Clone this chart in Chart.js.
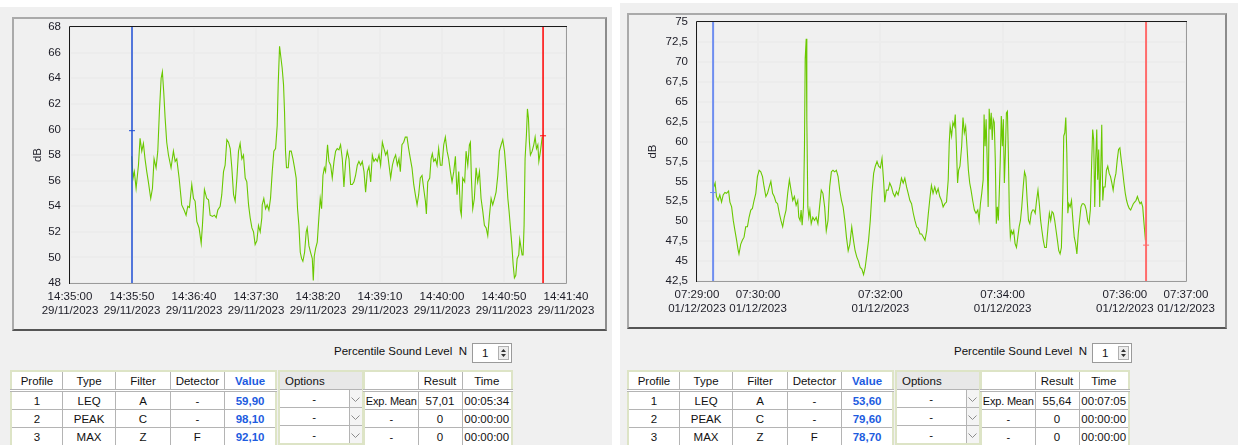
<!DOCTYPE html>
<html>
<head>
<meta charset="utf-8">
<title>Sound level</title>
<script src="https://cdn.jsdelivr.net/npm/chart.js@4.4.0/dist/chart.umd.min.js"></script>
<style>
  body { margin:0; width:1238px; height:445px; overflow:hidden; background:#fff; position:relative;
         font-family:"Liberation Sans", Arial, sans-serif; font-size:11.5px; color:#111; }
  .win { position:absolute; background:#f0f0f0; }
  .frame { position:absolute; box-sizing:border-box; border:2px solid #aaaaaa; border-right-color:#8c8c8c; border-bottom-color:#555; }
  canvas { position:absolute; }
  .perc { position:absolute; top:345px; width:170px; text-align:right; white-space:nowrap; }
  .spin { position:absolute; top:343px; width:40px; height:20px; box-sizing:border-box; border:1px solid #9a9a9a; background:#fff; }
  .spin span { position:absolute; left:9px; top:3px; }
  .spin svg { position:absolute; right:2px; top:2px; }
  table.grid { position:absolute; top:370px; border-collapse:collapse; background:#fff; border:2px solid #dde4c6; table-layout:fixed; font-size:11.5px; }
  table.grid td, table.grid th { border:1px solid #b4b4b4; height:17px; padding:0; text-align:center; font-weight:normal; white-space:nowrap; overflow:visible; }
  table.grid th { border-bottom:3px double #b4b4b4; }
  table.grid th.opt { background:#e8e8e8; text-align:left; padding-left:5px; border-bottom:1px solid #b4b4b4; }
  table.grid td.dd { background:#f4f4f4; }
  table.grid td.lab { font-size:11px; letter-spacing:-0.2px; }
  .blue { color:#1d5ce0; font-weight:bold !important; }
</style>
</head>
<body>
<div class="win" style="left:0;top:7px;width:612px;height:438px"></div>
<div class="win" style="left:620px;top:3px;width:618px;height:442px"></div>
<div class="frame" style="left:12px;top:17px;width:595px;height:314px"></div>
<div class="frame" style="left:627px;top:13px;width:600px;height:316px"></div>
<canvas id="leftChart" width="591" height="310" style="left:14px;top:19px"></canvas>
<canvas id="rightChart" width="596" height="312" style="left:629px;top:15px"></canvas>
<div id="tables"></div>
<script>
// ---- left measurement, 29/11/2023 (seconds after 14:35:00) ----
const leftTimes = [
  49.8,50.9,51.9,53.3,55.2,56.5,57.9,59.2,60.5,61.9,63.2,65.1,66.5,67.8,69.4,70.8,72.1,73.5,74.5,75.6,
  76.7,78.0,79.4,81.5,83.4,84.8,86.1,88.0,90.1,92.0,93.6,95.0,96.3,98.2,99.6,100.9,102.3,104.1,105.8,106.8,
  108.4,110.3,111.7,113.0,114.9,116.5,117.9,119.2,121.1,122.4,123.8,125.1,126.5,127.8,129.2,130.5,131.9,133.2,134.6,135.9,
  137.2,138.6,139.9,141.3,142.6,144.0,145.3,146.7,148.0,149.3,150.7,152.0,153.4,154.7,
  155.0,156.3,157.7,159.0,160.4,161.7,163.1,164.4,165.8,167.1,167.9,169.0,170.1,171.1,172.2,173.0,173.8,174.6,176.0,177.1,
  178.4,179.8,181.1,182.4,183.5,184.6,185.7,186.8,187.8,189.2,190.5,191.3,192.7,194.0,195.4,196.2,197.0,198.1,199.4,200.7,
  201.8,202.9,204.0,205.1,206.1,207.7,208.8,210.2,211.5,212.9,214.2,215.5,216.9,218.2,219.6,220.9,222.3,223.6,225.0,226.3,
  227.7,229.0,230.3,231.7,233.0,234.4,235.7,237.1,238.4,239.8,241.1,242.5,243.8,245.1,246.5,247.8,249.2,250.5,251.9,253.2,
  254.6,255.9,257.3,258.6,260.0,261.3,262.6,264.0,265.3,
  266.4,267.7,269.1,270.4,271.8,273.1,274.5,275.8,277.2,278.5,279.9,281.2,282.5,283.9,285.2,286.6,287.4,288.5,290.1,291.2,
  292.2,293.3,294.7,296.0,297.3,298.7,300.0,301.4,302.7,304.1,305.4,306.8,308.1,309.5,310.8,312.1,313.5,314.8,315.6,316.7,
  318.3,319.4,320.8,322.1,322.9,323.7,324.8,326.1,327.5,328.8,330.2,331.5,332.9,334.2,335.6,336.9,338.3,339.6,340.9,342.3,
  343.6,345.0,346.3,347.7,349.0,350.4,351.7,353.1,354.1,355.2,356.3,357.4,358.4,359.5,360.6,361.9,362.7,363.8,364.6,365.4,
  366.2,367.0,368.1,368.9,369.7,370.5,371.3,372.7,374.0,375.1,376.2,377.3,378.1,379.4,380.8
];
const leftLevels = [
  57.9,56.2,56.7,55.4,57.2,59.3,58.3,58.9,57.7,56.7,55.9,54.6,55.4,57.7,57.0,58.3,61.4,64.0,64.5,62.9,
  60.9,59.0,58.0,57.0,58.3,57.5,57.7,56.2,54.1,53.7,53.3,54.0,53.9,55.7,54.6,54.4,52.8,52.3,51.1,52.5,
  55.3,54.6,54.5,53.3,53.2,53.3,53.1,53.7,54.0,54.9,56.7,57.2,59.2,59.0,58.5,57.0,54.9,54.4,56.2,58.3,
  58.9,57.7,58.0,56.2,55.9,54.1,53.1,52.3,52.0,51.0,51.3,52.5,52.0,53.1,
  54.1,54.6,53.8,54.1,53.7,54.6,56.7,58.3,58.5,60.3,63.5,66.5,65.6,64.8,63.5,61.4,58.3,57.0,57.0,58.3,
  58.3,57.7,57.0,56.2,53.8,52.5,50.4,49.9,49.7,50.4,52.0,52.3,50.9,50.4,49.9,48.2,50.1,50.7,51.2,53.1,
  54.6,53.8,56.4,57.0,56.7,58.8,57.5,57.2,56.2,57.5,58.3,58.5,58.4,58.8,57.7,55.5,57.5,58.3,57.7,55.7,
  55.7,55.9,56.4,57.2,57.5,57.2,57.5,56.7,55.1,56.7,57.1,55.9,58.0,57.5,57.7,57.5,58.0,57.2,59.0,58.5,
  58.0,58.3,57.2,56.2,57.2,57.7,58.0,57.2,57.7,
  56.7,58.8,59.0,59.4,59.4,58.5,57.7,57.0,55.7,54.9,54.1,54.9,56.2,56.4,55.4,54.4,53.4,55.9,56.2,57.7,
  58.1,57.5,57.7,57.2,58.5,57.2,57.2,58.8,59.4,58.3,57.7,56.7,55.9,56.7,57.9,54.9,56.7,53.7,53.3,56.2,
  55.9,58.3,57.2,58.8,59.0,56.2,53.8,54.6,57.0,55.9,56.7,54.6,53.6,52.5,52.3,51.7,53.3,54.6,54.1,54.6,
  55.1,56.4,58.3,58.8,59.2,58.3,56.7,54.6,53.6,52.3,51.0,49.4,48.4,48.6,49.9,50.2,51.4,50.7,50.2,50.2,
  52.5,57.7,59.6,61.6,60.9,59.0,58.0,58.3,58.8,59.4,58.5,58.8,57.5,58.3,59.4
];
const leftCursorTimes = [50, 381.5];
const leftCursorLevels = [59.9, 59.5];
const leftTickSeconds = [0, 50, 100, 150, 200, 250, 300, 350, 400];
const leftTickTimes = ['14:35:00','14:35:50','14:36:40','14:37:30','14:38:20','14:39:10','14:40:00','14:40:50','14:41:40'];
const leftDate = '29/11/2023';
const leftYTicks = [48, 50, 52, 54, 56, 58, 60, 62, 64, 66, 68];

// ---- right measurement, 01/12/2023 (seconds after 07:29:00) ----
const rightTimes = [
  16.5,17.8,19.1,20.8,22.4,24.1,25.7,27.4,29.0,31.0,32.3,34.0,35.6,37.3,38.9,40.2,41.2,42.9,44.5,46.2,
  47.8,49.5,51.1,52.8,54.4,56.0,57.7,59.3,61.0,62.6,64.3,65.9,67.6,69.2,70.9,72.5,74.2,75.8,77.5,79.1,
  80.8,82.4,84.1,85.7,87.4,89.0,90.7,92.3,94.0,95.6,97.3,98.9,99.9,101.2,102.2,103.2,104.5,105.5,106.2,107.2,
  107.8,108.8,109.8,110.8,112.1,113.7,115.4,117.0,118.7,120.3,122.0,123.6,125.3,126.9,128.6,130.2,131.9,133.5,135.2,136.8,
  138.5,140.1,141.8,143.4,145.1,146.7,148.4,150.0,
  151.9,153.6,155.2,156.9,158.5,160.2,161.8,163.5,165.1,166.8,168.4,170.1,171.7,173.4,175.0,176.7,178.3,180.0,181.6,183.3,
  184.3,185.9,187.6,189.2,190.9,192.5,194.2,195.8,197.4,199.1,200.7,202.4,204.0,205.7,207.3,209.0,210.6,212.3,213.9,215.6,
  217.2,218.9,220.5,222.2,223.8,225.5,227.1,228.8,230.1,231.7,233.4,235.0,236.7,238.3,240.0,241.6,243.3,244.9,246.6,247.6,
  248.5,249.9,251.2,252.5,253.5,254.5,255.8,256.8,258.1,259.8,261.1,262.4,263.7,265.0,266.4,267.7,269.0,270.6,272.3,273.9,
  275.6,276.9,278.2,279.5,280.9,281.8,282.8,283.8,284.8,285.8,286.8,287.8,288.8,289.8,290.8,
  291.8,292.8,293.8,294.8,295.8,296.7,297.7,298.7,299.7,300.7,301.7,302.7,303.7,304.7,305.6,306.6,307.6,308.6,309.9,310.9,
  312.2,313.6,314.9,316.2,317.5,318.8,320.2,321.5,322.8,324.1,325.4,326.7,328.1,329.4,330.7,332.0,333.3,334.7,336.0,337.3,
  338.6,339.9,341.3,342.9,344.6,345.9,347.2,348.5,349.8,351.1,352.5,353.8,355.1,356.4,357.7,359.1,360.0,361.0,362.0,363.0,
  364.0,365.0,366.3,367.6,369.0,370.3,371.6,372.9,374.2,375.5,376.9,378.2,379.5,380.8,382.1,383.5,384.8,386.1,387.4,388.4,
  389.4,390.4,391.4,392.4,393.3,394.3,395.3,396.3,397.3,398.3,399.3,400.6,401.9,403.2,404.6,405.9,407.2,408.5,409.8,411.2,
  412.5,413.8,415.1,416.4,417.7,419.1,420.4,421.7,423.0,424.3,425.7,427.0,428.3,429.6,430.9,432.3,433.6,434.9,436.2,437.5,
  438.8,440.2
];
const rightLevels = [
  54.3,54.8,53.1,52.6,53.3,52.4,53.3,53.6,53.5,53.8,52.4,51.8,50.1,48.8,47.6,46.5,45.9,47.1,47.6,48.0,
  49.3,49.3,50.5,51.4,51.6,52.6,53.5,55.6,56.4,56.2,55.6,54.3,53.1,53.5,54.3,55.0,53.5,53.1,52.4,52.2,
  51.0,50.1,49.3,50.5,51.4,53.5,55.2,53.9,52.6,53.1,52.0,52.6,50.5,50.1,51.4,49.5,51.8,59.4,70.4,72.9,
  62.8,51.8,50.5,51.4,49.7,50.5,50.1,50.5,49.7,51.8,53.9,53.5,51.8,48.8,50.1,54.3,56.2,56.4,56.2,56.4,
  55.6,53.9,52.6,51.8,50.1,48.0,46.3,47.1,
  49.3,47.6,46.3,45.5,45.0,44.2,44.0,43.3,44.2,45.9,47.6,50.1,53.5,56.0,56.9,57.5,56.9,56.7,57.9,54.8,
  52.4,53.9,53.9,54.8,54.3,53.5,53.1,53.7,53.3,54.3,55.4,54.8,55.4,54.3,53.5,52.6,52.2,51.0,50.1,49.3,
  49.1,48.4,48.4,48.0,47.6,48.8,51.0,53.1,54.5,53.5,54.3,53.5,54.1,53.1,52.6,51.8,52.2,52.4,55.2,59.8,
  61.9,60.7,62.4,61.9,63.4,59.8,54.8,56.4,56.9,59.4,63.0,61.1,61.9,59.4,56.4,54.8,53.9,52.6,51.4,51.0,
  51.4,50.1,52.2,53.5,55.2,63.4,59.4,62.8,57.7,51.8,64.1,61.5,63.6,60.2,62.8,
  62.4,57.7,49.7,51.8,50.1,53.5,57.7,63.2,59.4,62.8,54.8,58.6,63.6,63.8,58.6,51.0,48.0,48.8,48.4,48.8,
  47.2,46.7,48.0,49.3,50.1,51.8,54.3,56.2,55.6,52.6,50.1,49.7,51.0,51.4,51.4,51.0,52.6,53.9,52.2,50.1,
  48.8,47.6,46.7,46.7,49.3,51.0,50.1,51.2,51.0,50.1,48.8,47.6,46.3,45.9,46.7,53.5,60.7,61.1,63.0,58.6,
  51.0,52.2,51.8,52.6,50.1,48.0,47.2,45.9,48.4,50.1,51.8,52.2,52.2,52.0,51.4,50.1,49.7,51.4,57.3,61.5,
  60.2,51.8,57.7,61.5,55.2,59.0,51.8,56.4,62.1,52.6,54.3,54.3,56.4,56.9,56.0,55.6,54.8,53.9,55.2,56.0,
  57.7,59.0,59.2,57.7,56.4,54.8,53.5,52.6,52.0,51.6,51.4,51.8,52.2,52.4,52.6,53.1,52.6,52.2,52.4,51.8,
  49.7,47.6
];
const rightCursorTimes = [15.8, 440.8];
const rightCursorLevels = [53.6, 47.0];
const rightTickSeconds = [0, 60, 180, 300, 420, 480];
const rightTickTimes = ['07:29:00','07:30:00','07:32:00','07:34:00','07:36:00','07:37:00'];
const rightDate = '01/12/2023';
const rightYTicks = [42.5, 45, 47.5, 50, 52.5, 55, 57.5, 60, 62.5, 65, 67.5, 70, 72.5, 75];

// ---- tables under the charts ----
const profileIds = ['1', '2', '3'];
const profileTypes = ['LEQ', 'PEAK', 'MAX'];
const profileFilters = ['A', 'C', 'Z'];
const profileDetectors = ['-', '-', 'F'];
const leftValues = ['59,90', '98,10', '92,10'];
const rightValues = ['53,60', '79,60', '78,70'];
const resultLabels = ['Exp. Mean', '-', '-'];
const leftResults = ['57,01', '0', '0'];
const rightResults = ['55,64', '0', '0'];
const leftDurations = ['00:05:34', '00:00:00', '00:00:00'];
const rightDurations = ['00:07:05', '00:00:00', '00:00:00'];

const levelColor = '#6ac800';
const gridColor = '#ececec';

Chart.defaults.font.family = '"Liberation Sans", Arial, sans-serif';
Chart.defaults.font.size = 11.5;
Chart.defaults.color = '#1c1c26';

// dark top/left, grey bottom/right edge round the plot
const framePlugin = {
  id: 'frame',
  afterDatasetsDraw(chart) {
    const ctx = chart.ctx, a = chart.chartArea;
    ctx.save();
    ctx.lineWidth = 1;
    ctx.strokeStyle = '#9a9a9a';
    ctx.beginPath();
    ctx.moveTo(Math.round(a.right) + 0.5, Math.round(a.top));
    ctx.lineTo(Math.round(a.right) + 0.5, Math.round(a.bottom) + 0.5);
    ctx.lineTo(Math.round(a.left), Math.round(a.bottom) + 0.5);
    ctx.stroke();
    ctx.strokeStyle = '#1a1a1a';
    ctx.beginPath();
    ctx.moveTo(Math.round(a.left) - 0.5, Math.round(a.bottom) + 1);
    ctx.lineTo(Math.round(a.left) - 0.5, Math.round(a.top) - 0.5);
    ctx.lineTo(Math.round(a.right) + 1, Math.round(a.top) - 0.5);
    ctx.stroke();
    ctx.restore();
  }
};

function makeChart(id, c) {
  const yMin = c.yTicks[0], yMax = c.yTicks[c.yTicks.length - 1];
  return new Chart(document.getElementById(id), {
    type: 'line',
    data: {
      datasets: [
        { data: c.times.map((t, i) => ({ x: t, y: c.levels[i] })),
          borderColor: levelColor, borderWidth: 1.1, pointRadius: 0, order: 5 },
        { data: [{ x: c.cursorTimes[0], y: yMin }, { x: c.cursorTimes[0], y: yMax }],
          borderColor: c.startColor, borderWidth: c.cursorWidth, pointRadius: 0, order: 3 },
        { data: [{ x: c.cursorTimes[1], y: yMin }, { x: c.cursorTimes[1], y: yMax }],
          borderColor: c.endColor, borderWidth: c.cursorWidth, pointRadius: 0, order: 3 },
        { data: [{ x: c.cursorTimes[0], y: c.cursorLevels[0] }], showLine: false,
          pointStyle: 'line', pointRadius: 3, pointBorderWidth: 1, pointBorderColor: c.startColor, order: 1 },
        { data: [{ x: c.cursorTimes[1], y: c.cursorLevels[1] }], showLine: false,
          pointStyle: 'line', pointRadius: 3, pointBorderWidth: 1, pointBorderColor: c.endColor, order: 1 }
      ]
    },
    options: {
      responsive: false,
      animation: false,
      events: [],
      layout: { padding: { top: c.padTop, right: c.padRight, left: 0, bottom: 0 } },
      plugins: { legend: { display: false }, tooltip: { enabled: false } },
      scales: {
        x: {
          type: 'linear', min: c.tickSeconds[0], max: c.tickSeconds[c.tickSeconds.length - 1],
          afterBuildTicks: s => { s.ticks = c.tickSeconds.map(v => ({ value: v })); },
          afterFit: s => { s.height = c.xHeight; s.paddingLeft = 0; s.paddingRight = 0; },
          ticks: { autoSkip: false, maxRotation: 0, minRotation: 0, padding: 7,
                   callback: (v, i) => [c.tickTimes[i], c.date] },
          grid: { color: gridColor, lineWidth: 2, drawTicks: false },
          border: { display: false }
        },
        y: {
          min: yMin, max: yMax,
          afterBuildTicks: s => { s.ticks = c.yTicks.map(v => ({ value: v })); },
          afterFit: s => { s.width = c.yWidth; s.paddingTop = 0; s.paddingBottom = 0; },
          ticks: { padding: 9, callback: v => String(v).replace('.', ',') },
          grid: { color: gridColor, lineWidth: 2, drawTicks: false },
          border: { display: false },
          title: { display: true, text: 'dB', padding: { top: 17, bottom: 0 } }
        }
      }
    },
    plugins: [framePlugin]
  });
}

makeChart('leftChart', {
  times: leftTimes, levels: leftLevels, cursorTimes: leftCursorTimes, cursorLevels: leftCursorLevels,
  tickSeconds: leftTickSeconds, tickTimes: leftTickTimes, date: leftDate, yTicks: leftYTicks,
  startColor: '#1f4fd6', endColor: '#ff0000', cursorWidth: 1.5,
  padTop: 8, padRight: 39, xHeight: 46, yWidth: 56
});
makeChart('rightChart', {
  times: rightTimes, levels: rightLevels, cursorTimes: rightCursorTimes, cursorLevels: rightCursorLevels,
  tickSeconds: rightTickSeconds, tickTimes: rightTickTimes, date: rightDate, yTicks: rightYTicks,
  startColor: '#6f8ef0', endColor: '#ff6b6b', cursorWidth: 2,
  padTop: 7, padRight: 39, xHeight: 46, yWidth: 68
});

const chevron = '<svg width="9" height="6"><polyline points="0.5,0.5 4.5,4.5 8.5,0.5" fill="none" stroke="#8c8c8c"/></svg>';
const spinArrows = '<svg width="11" height="14"><rect x="0.5" y="0.5" width="10" height="13" fill="#ececec" stroke="#b0b0b0"/>' +
  '<path d="M3 6 L5.5 3 L8 6 Z M3 8 L5.5 11 L8 8 Z" fill="#333"/></svg>';

function buildPanel(ox, px, values, results, durations) {
  let h = `<div class="perc" style="left:${297 + px}px">Percentile Sound Level&nbsp; N</div>`;
  h += `<div class="spin" style="left:${472 + px}px"><span>1</span>${spinArrows}</div>`;

  h += `<table class="grid" style="left:${10 + ox}px;width:267px"><colgroup>` +
       '<col style="width:51px"><col style="width:53px"><col style="width:54px"><col style="width:54px"><col style="width:51px"></colgroup>';
  h += '<tr><th>Profile</th><th>Type</th><th>Filter</th><th>Detector</th><th class="blue">Value</th></tr>';
  for (let i = 0; i < profileIds.length; i++) {
    h += `<tr><td>${profileIds[i]}</td><td>${profileTypes[i]}</td><td>${profileFilters[i]}</td>` +
         `<td>${profileDetectors[i]}</td><td class="blue">${values[i]}</td></tr>`;
  }
  h += '</table>';

  h += `<table class="grid" style="left:${278 + ox}px;width:84px"><colgroup><col style="width:70px"><col style="width:14px"></colgroup>`;
  h += '<tr><th class="opt" colspan="2">Options</th></tr>';
  for (let i = 0; i < profileIds.length; i++) {
    h += `<tr><td style="border-right:none">-</td><td class="dd">${chevron}</td></tr>`;
  }
  h += '</table>';

  h += `<table class="grid" style="left:${363 + ox}px;width:148px"><colgroup><col style="width:54px"><col style="width:44px"><col style="width:50px"></colgroup>`;
  h += '<tr><th></th><th>Result</th><th>Time</th></tr>';
  for (let i = 0; i < profileIds.length; i++) {
    h += `<tr><td class="lab">${resultLabels[i]}</td><td>${results[i]}</td><td>${durations[i]}</td></tr>`;
  }
  h += '</table>';
  return h;
}

document.getElementById('tables').innerHTML =
  buildPanel(0, 0, leftValues, leftResults, leftDurations) +
  buildPanel(617, 620, rightValues, rightResults, rightDurations);
</script>
</body>
</html>
